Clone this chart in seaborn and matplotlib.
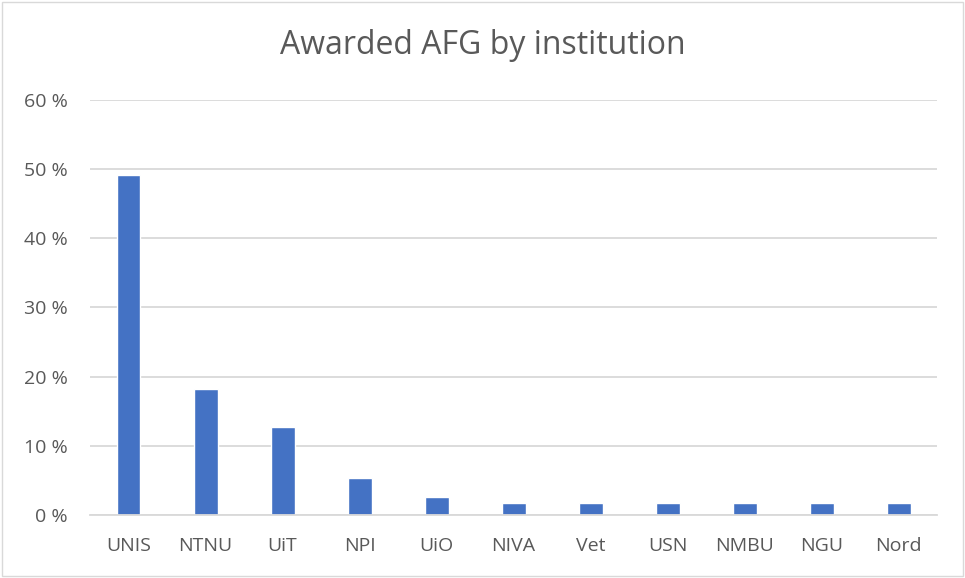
import pandas as pd
import matplotlib.pyplot as plt
import seaborn as sns
from matplotlib.patches import Rectangle

# share of awarded AFG per institution
institutions = ["UNIS", "NTNU", "UiT", "NPI", "UiO", "NIVA", "Vet", "USN", "NMBU", "NGU", "Nord"]
share = [0.492, 0.182, 0.127, 0.054, 0.026, 0.017, 0.017, 0.017, 0.017, 0.017, 0.017]
y_ticks = [0, 0.1, 0.2, 0.3, 0.4, 0.5, 0.6]
y_labels = ["0 %", "10 %", "20 %", "30 %", "40 %", "50 %", "60 %"]

df = pd.DataFrame({"institution": institutions, "share": share})

sns.set_style("white")
plt.rcParams['font.family'] = ['Open Sans', 'DejaVu Sans']
text_col = '#595959'

fig = plt.figure(figsize=(9.65, 5.78), dpi=100)
ax = fig.add_axes([0.0933, 0.109, 0.878, 0.718])

sns.barplot(data=df, x='institution', y='share', color='#4472C4', width=0.31,
            saturation=1, ax=ax)

ax.set_ylim(0, 0.6)
ax.set_xlim(-0.5, len(institutions) - 0.5)
ax.set_yticks(y_ticks)
ax.set_yticklabels(y_labels)
ax.yaxis.grid(True, color='#D9D9D9', linewidth=1.3)
ax.set_axisbelow(True)
for s in ['top', 'right', 'left']:
    ax.spines[s].set_visible(False)
ax.spines['bottom'].set_color('#D9D9D9')
ax.spines['bottom'].set_linewidth(1.3)
ax.tick_params(axis='both', length=0, labelsize=14, labelcolor=text_col)
ax.tick_params(axis='y', pad=16)
ax.tick_params(axis='x', pad=16)
ax.set_xlabel('')
ax.set_ylabel('')

fig.text(0.5, 0.922, 'Awarded AFG by institution', ha='center', va='center',
         fontsize=23, color=text_col)

# light chart border
fig.patches.append(Rectangle((0.002, 0.003), 0.996, 0.994, transform=fig.transFigure,
                             fill=False, edgecolor='#D9D9D9', linewidth=1))

plt.savefig('out.png', dpi=100)
